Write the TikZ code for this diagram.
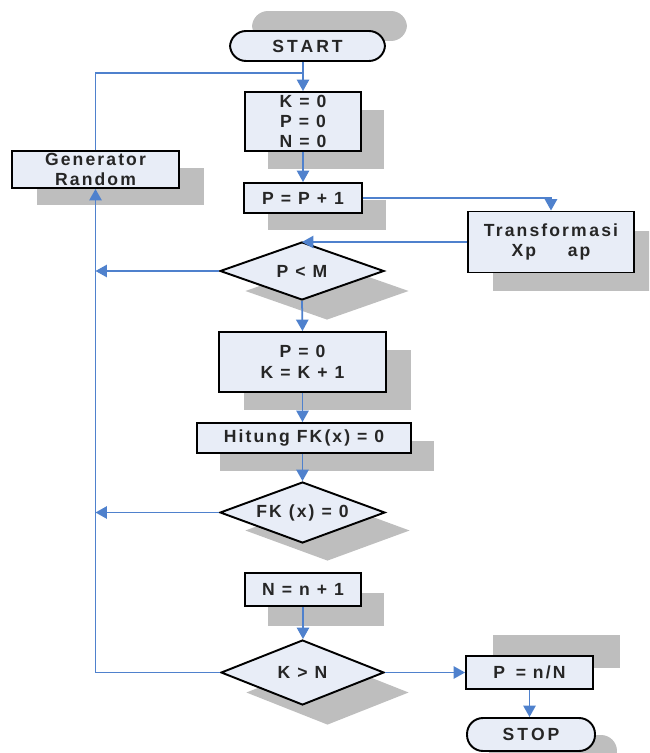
\documentclass[tikz,border=0pt]{standalone}
\usepackage{fontspec}
\setmainfont{Liberation Sans}[LetterSpace=12]
\usetikzlibrary{shapes.geometric,arrows.meta,shadows}
\definecolor{boxc}{HTML}{E8EDF7}
\definecolor{shc}{HTML}{BEBEBE}
\definecolor{txtc}{HTML}{262626}
\definecolor{arrc}{HTML}{4F81CD}
\begin{document}
\begin{tikzpicture}[x=0.02cm,y=-0.02cm,
  sh/.style 2 args={general shadow={fill=shc,shadow xshift=#1,shadow yshift=#2}},
  base/.style={draw=black,line width=1.1pt,fill=boxc,text=txtc,
    font=\bfseries\fontsize{10}{11.6}\selectfont,align=center,inner sep=0pt},
  procbox/.style={base,rectangle},
  termbox/.style={base,rectangle,rounded corners=0.32cm},
  decbox/.style={base,diamond,aspect=2.8},
  conn/.style={draw=arrc,line width=1pt},
  arr/.style={conn,-{Triangle[length=6.5pt,width=7pt]}}]
\useasboundingbox (0,0) rectangle (649,753);
\clip (0,0) rectangle (649,753);

\node[termbox,sh={0.44cm}{0.40cm},minimum width=3.1cm,minimum height=0.6cm] (start) at (307.5,46) {S\,T\,A\,R\,T};
\node[procbox,sh={0.46cm}{-0.36cm},minimum width=2.32cm,minimum height=1.18cm] (kbox) at (303,121.5) {K = 0\\P = 0\\N = 0};
\node[procbox,sh={0.5cm}{-0.34cm},minimum width=3.34cm,minimum height=0.74cm] (gen) at (95.5,169.5) {Generator\\Random};
\node[procbox,sh={0.48cm}{-0.34cm},minimum width=2.36cm,minimum height=0.6cm] (pp1) at (303,198) {P = P + 1};
\node[procbox,sh={0.5cm}{-0.38cm},minimum width=3.32cm,minimum height=1.22cm] (trans) at (551,242) {Transform\hspace{1.5pt}asi\\Xp\hspace{18pt}ap};
\node[decbox,sh={0.5cm}{-0.4cm},minimum width=3.28cm,minimum height=1.16cm] (pm) at (302,271) {P < M};
\node[procbox,sh={0.5cm}{-0.36cm},minimum width=3.34cm,minimum height=1.2cm] (p0k) at (302.5,362) {P = 0\\K = K + 1};
\node[procbox,sh={0.46cm}{-0.36cm},minimum width=4.28cm,minimum height=0.6cm] (hit) at (304,438) {Hitung FK(x) = 0};
\node[decbox,sh={0.5cm}{-0.36cm},minimum width=3.3cm,minimum height=1.22cm] (fk) at (302.5,512.5) {FK (x) = 0};
\node[procbox,sh={0.46cm}{-0.4cm},minimum width=2.32cm,minimum height=0.66cm] (nn) at (303,589.5) {N = n + 1};
\node[decbox,sh={0.5cm}{-0.4cm},minimum width=3.26cm,minimum height=1.3cm] (kn) at (302.5,672.5) {K > N};
\node[procbox,sh={0.54cm}{0.42cm},minimum width=2.54cm,minimum height=0.66cm] (pn) at (529.5,672.5) {P\hspace{6pt}= n/N};
\node[termbox,sh={0.44cm}{-0.34cm},minimum width=2.56cm,minimum height=0.66cm] (stop) at (531,734.5) {S\,T\,O\,P};

\coordinate (j1) at (303,73);
\draw[arr] (kbox.north |- start.south) -- (kbox.north);
\draw[conn] (gen.north) |- (j1);
\draw[arr] (kbox.south) -- (pp1.north);
\draw[arr] (pp1.east) -| (trans.north);
\draw[arr] (trans.west) -- (trans.west -| pm.north);
\draw[arr] (pm.south) -- (p0k.north);
\draw[arr] (p0k.south) -- (p0k.south |- hit.north);
\draw[arr] (hit.south -| fk.north) -- (fk.north);
\draw[arr] (nn.south) -- (nn.south |- kn.north);
\draw[arr] (kn.east) -- (pn.west);
\draw[arr] (pn.south) -- (pn.south |- stop.north);
\draw[arr] (kn.west) -| (gen.south);
\draw[arr] (pm.west) -- (pm.west -| gen.south);
\draw[arr] (fk.west) -- (fk.west -| gen.south);
\end{tikzpicture}
\end{document}
